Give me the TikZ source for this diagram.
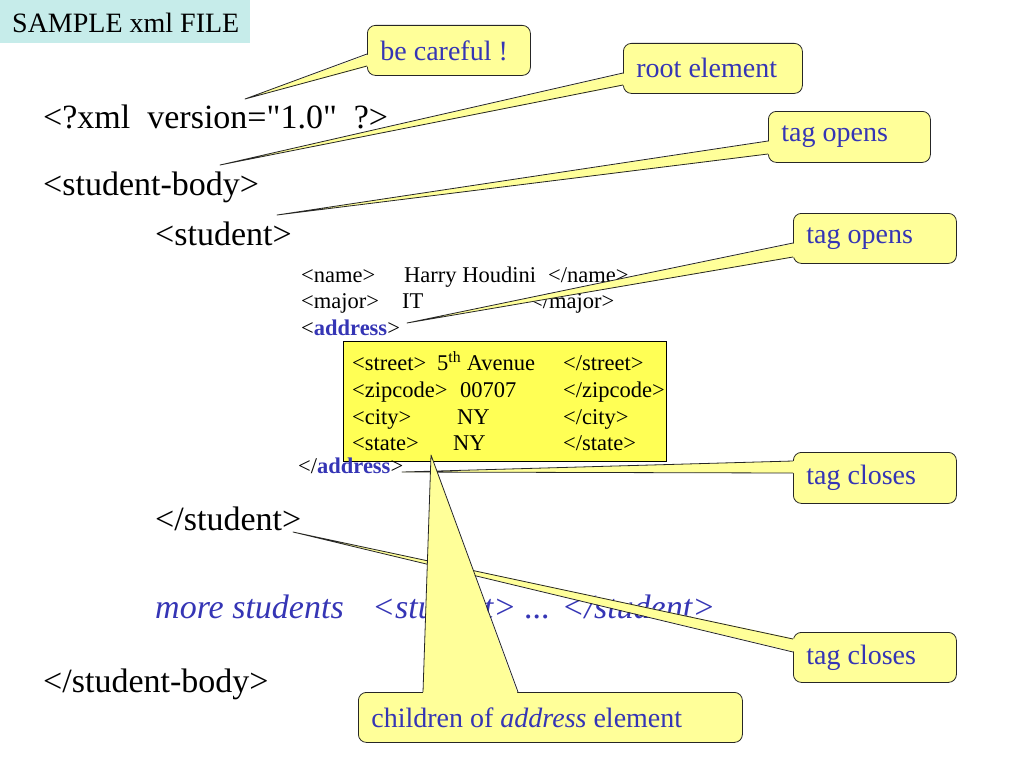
\documentclass[tikz,border=0pt]{standalone}
\usepackage{fontspec}
\setmainfont{Liberation Serif}[Ligatures=TeXOff]
\usetikzlibrary{calc}
\definecolor{callfill}{HTML}{FFFF99}
\definecolor{boxfill}{HTML}{FFFF55}
\definecolor{titlefill}{HTML}{C6ECEA}
\definecolor{blu}{HTML}{3535B5}
\tikzset{
  txt/.style={anchor=base west, inner sep=0pt},
  big/.style={txt, font=\fontsize{34}{40}\selectfont},
  small/.style={txt, font=\fontsize{22.5}{26}\selectfont},
  callbox/.style={draw=black!85, line width=0.8pt, fill=callfill, rounded corners=8pt,
    anchor=north west, inner xsep=13pt, inner ysep=0pt, text=blu,
    font=\fontsize{28}{32}\selectfont, align=flush left},
  callside/.style={draw=black!85, line width=0.8pt, line join=round},
}
\newcommand\leftptr[4]{%
  \fill[callfill] ($(#1.north west)+(3,#2)$) -- (#4) -- ($(#1.north west)+(3,#3)$) -- cycle;
  \draw[callside] ($(#1.north west)+(0,#2)$) -- (#4) -- ($(#1.north west)+(0,#3)$);
}
\begin{document}
\begin{tikzpicture}[x=1pt,y=-1pt]
\useasboundingbox (0,0) rectangle (1024,768);
% title
\node[fill=titlefill, anchor=north west, minimum width=250pt, minimum height=43pt, inner sep=0pt] (titlebg) at (0,0) {};
\node[txt, font=\fontsize{28}{32}\selectfont] (title) at (12,33) {SAMPLE xml FILE};
% main text
\node[big] (xmldecl) at (43,128) {<?xml~~version="1.0"~~?>};
\node[big] (sbody) at (43,195) {<student-body>};
\node[big] (stud) at (155,245) {<student>};
\node[small] (n1) at (301,282) {<name>};
\node[small] (n2) at (404,282) {Harry Houdini};
\node[small] (n3) at (548,282) {</name>};
\node[small] (m1) at (301,308.5) {<major>};
\node[small] (m2) at (402,308.5) {IT};
\node[small] (m3) at (530,308.5) {</major>};
\node[small] (a1) at (301,335) {<\textcolor{blu}{\textbf{address}}>};
% address children box
\node[draw=black, line width=0.8pt, fill=boxfill, anchor=north west, minimum width=323pt, minimum height=120pt, inner sep=0pt] (abox) at (343,341) {};
\node[small] (s1) at (352,370) {<street>};
\node[small] (s2) at (437,370) {5\textsuperscript{th} Avenue};
\node[small] (s3) at (563,370) {</street>};
\node[small] (z1) at (352,397) {<zipcode>};
\node[small] (z2) at (460,397) {00707};
\node[small] (z3) at (563,397) {</zipcode>};
\node[small] (c1) at (352,424) {<city>};
\node[small] (c2) at (457,424) {NY};
\node[small] (c3) at (563,424) {</city>};
\node[small] (st1) at (352,450) {<state>};
\node[small] (st2) at (453,450) {NY};
\node[small] (st3) at (563,450) {</state>};
\node[small] (a2) at (298,473) {</\textcolor{blu}{\textbf{address}}>};
\node[big] (estud) at (155,530) {</student>};
\node[big, text=blu, font=\fontsize{34}{40}\selectfont\itshape] (more) at (155,618) {more students};
\node[big, text=blu, font=\fontsize{34}{40}\selectfont\itshape] (more2) at (372,618) {<student> ... </student>};
\node[big] (esbody) at (43,692) {</student-body>};
% tips
\coordinate (t1) at (245,99);
\coordinate (t2) at (220,165);
\coordinate (t3) at (277,215);
\coordinate (t4) at (407,323);
\coordinate (t5) at (402,472);
\coordinate (t6) at (293,532);
\coordinate (t7) at (431,455);
% callouts
\node[callbox, minimum width=163pt, minimum height=50pt, text width=137pt] (cb1) at (367,25) {be careful !};
\leftptr{cb1}{29}{41}{t1}
\node[callbox, minimum width=179pt, minimum height=50pt, text width=153pt] (cb2) at (623,43) {root element};
\leftptr{cb2}{30}{42}{t2}
\node[callbox, minimum width=162pt, minimum height=51pt, text width=136pt] (cb3) at (768,111) {tag opens};
\leftptr{cb3}{30}{43}{t3}
\node[callbox, minimum width=163pt, minimum height=50pt, text width=137pt] (cb4) at (793,213) {tag opens};
\leftptr{cb4}{30}{44}{t4}
\node[callbox, minimum width=163pt, minimum height=51pt, text width=137pt] (cb5) at (793,452) {tag closes};
\leftptr{cb5}{9}{21}{t5}
\node[callbox, minimum width=163pt, minimum height=50pt, text width=137pt] (cb6) at (793,632) {tag closes};
\leftptr{cb6}{7}{20}{t6}
\node[callbox, minimum width=384pt, minimum height=50pt, text width=358pt] (cb7) at (358,692) {children of \textit{address} element};
\fill[callfill] ($(cb7.north west)+(65,3)$) -- (t7) -- ($(cb7.north west)+(160,3)$) -- cycle;
\draw[callside] ($(cb7.north west)+(65,0)$) -- (t7) -- ($(cb7.north west)+(160,0)$);
\end{tikzpicture}
\end{document}
